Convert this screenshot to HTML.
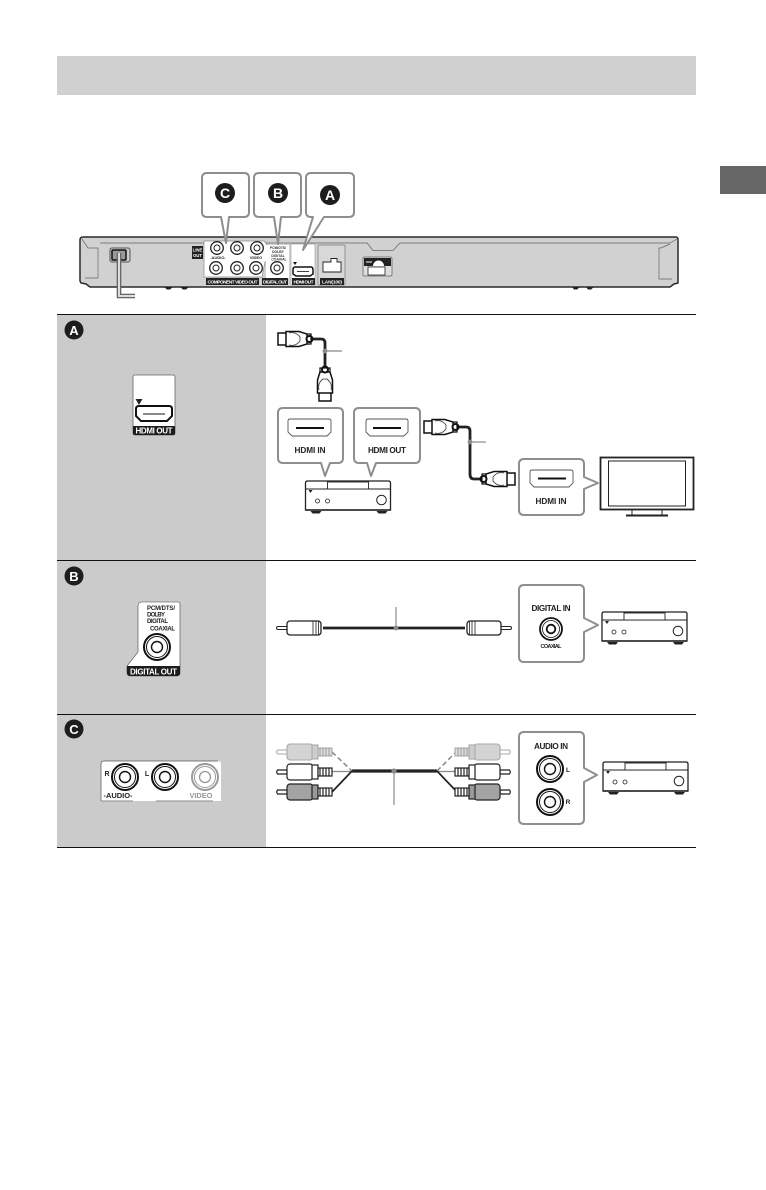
<!DOCTYPE html>
<html><head><meta charset="utf-8"><style>
html,body{margin:0;padding:0;background:#fff}
svg{display:block;filter:blur(.3px)}
text{font-family:"Liberation Sans",sans-serif;font-weight:bold}
</style></head><body>
<svg width="766" height="1190" viewBox="0 0 766 1190" xmlns="http://www.w3.org/2000/svg">
<defs>
<g id="recv">
 <path d="M1 2Q1 0 3 0H84Q86 0 86 2V29H1Z" fill="#fff" stroke="#222" stroke-width="1.300"/>
 <path d="M1 8H86" stroke="#222" stroke-width="1"/>
 <rect x="23" y="1" width="41" height="7" fill="#fff" stroke="#222" stroke-width=".9"/>
 <path d="M4 9h4l-2 3z" fill="#222"/>
 <circle cx="13" cy="20" r="2" fill="#fff" stroke="#222" stroke-width=".8"/>
 <circle cx="23" cy="20" r="2" fill="#fff" stroke="#222" stroke-width=".8"/>
 <circle cx="77" cy="19" r="4.800" fill="#fff" stroke="#222" stroke-width="1"/>
 <path d="M1 29h85" stroke="#222" stroke-width="1.400"/>
 <path d="M6 30h11l-2 2.500H8zM72 30h11l-2 2.500H74z" fill="#222"/>
</g>
<g id="hplug">
 <rect x="0" y="-6" width="9" height="12" fill="#fff" stroke="#111" stroke-width="1.500"/>
 <path d="M8-7.500H21L29-5V5L21 7.500H8Z" fill="#fff" stroke="#111" stroke-width="1.500"/>
 <path d="M11-6C15-7 19-6 22-2V2C19 6 15 7 11 6" fill="none" stroke="#333" stroke-width=".8"/>
 <circle cx="31.500" cy="0" r="3" fill="#fff" stroke="#111" stroke-width="2"/>
 <path d="M29-5h4v10h-4" fill="none" stroke="#111" stroke-width="1.200"/>
</g>
<g id="rca1">
 <path d="M1-1.500H10V1.500H1A1.500 1.500 0 0 1 1-1.500Z" fill="#fff" stroke="#222" stroke-width="1"/>
 <rect x="10" y="-7" width="34" height="14" rx="3" fill="#fff" stroke="#222" stroke-width="1.300"/>
 <path d="M36-7V7M39-7V7M41.500-7V7" stroke="#222" stroke-width=".8"/>
</g>
<g id="jack">
 <circle r="13" fill="#fff" stroke="#111" stroke-width="2"/>
 <circle r="10.500" fill="#fff" stroke="#111" stroke-width="1"/>
 <circle r="5.500" fill="#fff" stroke="#111" stroke-width="1.400"/>
</g>
<g id="mini">
 <circle r="6.300" fill="#fff" stroke="#222" stroke-width="1.300"/>
 <circle r="3" fill="#fff" stroke="#222" stroke-width="1"/>
</g>
<g id="triple">
 <g stroke="#aaa" stroke-width="1.100">
  <path d="M277.500 750H287V754H277.500Q276 752 277.500 750Z" fill="#fff"/>
  <rect x="287" y="744" width="26" height="16" rx="3" fill="#d4d4d4"/>
  <rect x="312" y="745" width="6" height="14" fill="#ccc"/>
  <rect x="318" y="748" width="14" height="8" fill="#ddd"/>
 </g>
 <path d="M320 748v8M323 748v8M326 748v8M329 748v8" stroke="#999" stroke-width="1"/>
 <g stroke="#222" stroke-width="1.200">
  <path d="M277.500 770H287V774H277.500Q276 772 277.500 770Z" fill="#fff"/>
  <rect x="287" y="764" width="26" height="16" rx="3" fill="#fff"/>
  <rect x="312" y="765" width="6" height="14" fill="#fff"/>
  <rect x="318" y="768" width="14" height="8" fill="#fff"/>
 </g>
 <path d="M320 768v8M323 768v8M326 768v8M329 768v8" stroke="#111" stroke-width="1.100"/>
 <g stroke="#222" stroke-width="1.200">
  <path d="M277.500 790H287V794H277.500Q276 792 277.500 790Z" fill="#fff"/>
  <rect x="287" y="784" width="26" height="16" rx="3" fill="#a3a3a3"/>
  <rect x="312" y="785" width="6" height="14" fill="#999"/>
  <rect x="318" y="788" width="14" height="8" fill="#fff"/>
 </g>
 <path d="M320 788v8M323 788v8M326 788v8M329 788v8" stroke="#111" stroke-width="1.100"/>
</g>
</defs>

<rect width="766" height="1190" fill="#fff"/>
<rect x="57" y="56" width="639" height="39" fill="#d0d0d0"/>
<rect x="720" y="166" width="46" height="28" fill="#666"/>

<!-- player -->
<path d="M83 237H676Q678 237 678 240V283L674 284 670 287H90L86 284 81 283 80 281V240Q80 237 83 237Z" fill="#d1d1d1" stroke="#2a2a2a" stroke-width="1.500"/>
<path d="M100 243H367L373 250.500H393L400 243H670L677 239" fill="none" stroke="#666" stroke-width=".7"/>
<path d="M82 239L88 248H98V278H85" fill="none" stroke="#666" stroke-width=".7"/>
<path d="M670 244L661 248H659V279H672" fill="none" stroke="#666" stroke-width=".7"/>
<path d="M164 287h9l-3 2.500h-3zM180 287h9l-3 2.500h-3zM572 287h8l-3 2.500h-3zM586 287h8l-3 2.500h-3z" fill="#222"/>

<!-- power -->
<rect x="110" y="248" width="20" height="14" rx="2" fill="#ccc" stroke="#555" stroke-width="1"/>
<rect x="112" y="250" width="14" height="10" rx="1" fill="#999" stroke="#111" stroke-width="1.500"/>
<path d="M119 253V296H135" fill="none" stroke="#666" stroke-width="4.600"/>
<path d="M119 253V296H135" fill="none" stroke="#ddd" stroke-width="2"/>

<!-- rear panels -->
<path d="M204 241H264L268 246V262H265L262 277H204Z" fill="#fff" stroke="#888" stroke-width=".7"/>
<rect x="192" y="246" width="11" height="13" fill="#222"/>
<text x="197.500" y="251.500" font-size="4.300" fill="#fff" text-anchor="middle">LINE</text>
<text x="197.500" y="257" font-size="4.300" fill="#fff" text-anchor="middle">OUT</text>
<g transform="translate(217,248)"><use href="#mini"/></g>
<g transform="translate(237,248)"><use href="#mini"/></g>
<g transform="translate(257,248)"><use href="#mini"/></g>
<g transform="translate(216,268)"><use href="#mini"/></g>
<g transform="translate(237,268)"><use href="#mini"/></g>
<g transform="translate(256,268)"><use href="#mini"/></g>
<text x="218" y="259" font-size="4" fill="#222" text-anchor="middle">-AUDIO-</text>
<text x="256" y="259" font-size="4" fill="#222" text-anchor="middle">VIDEO</text>
<rect x="206" y="278" width="53" height="7" fill="#222"/>
<text x="232.500" y="283.500" font-size="4.800" fill="#fff" text-anchor="middle" textLength="50">COMPONENT VIDEO OUT</text>
<rect x="266" y="245" width="23" height="33" fill="#fff"/>
<text x="278" y="249" font-size="3.400" fill="#333" text-anchor="middle">PCM/DTS/</text>
<text x="278" y="253" font-size="3.400" fill="#333" text-anchor="middle">DOLBY</text>
<text x="278" y="257" font-size="3.400" fill="#333" text-anchor="middle">DIGITAL</text>
<text x="279" y="260.500" font-size="3.400" fill="#333" text-anchor="middle">COAXIAL</text>
<g transform="translate(277,268)"><use href="#mini"/></g>
<rect x="262" y="278" width="26" height="7" fill="#222"/>
<text x="275" y="283.500" font-size="4.800" fill="#fff" text-anchor="middle" textLength="24">DIGITAL OUT</text>
<rect x="291" y="244" width="24" height="41" fill="#fff" stroke="#999" stroke-width=".6"/>
<path d="M293 262h4l-2 3z" fill="#111"/>
<path d="M295 267H311Q313 267 313 270V274L310 276H296L293 274V270Q293 267 295 267Z" fill="#fff" stroke="#111" stroke-width="1.500"/>
<path d="M297 271.500H309" stroke="#111" stroke-width=".8"/>
<rect x="292" y="278" width="23" height="7" fill="#222"/>
<text x="303.500" y="283.500" font-size="4.800" fill="#fff" text-anchor="middle" textLength="20">HDMI OUT</text>
<rect x="318" y="245" width="27" height="40" rx="1" fill="#d8d8d8" stroke="#777" stroke-width=".7"/>
<path d="M323 272V262H331V258.500H337V262H341V272Z" fill="#fff" stroke="#222" stroke-width=".9"/>
<rect x="320" y="278" width="24" height="7" fill="#222"/>
<text x="332" y="283.500" font-size="4.800" fill="#fff" text-anchor="middle" textLength="20">LAN(100)</text>
<rect x="363" y="257" width="29" height="19" rx="1.500" fill="#ddd" stroke="#666" stroke-width=".8"/>
<rect x="364" y="258" width="27" height="8" fill="#222"/>
<path d="M373 266A5.500 5.500 0 0 1 384 266Z" fill="#fff"/>
<rect x="368" y="267" width="17" height="8" fill="#fff" stroke="#222" stroke-width=".8"/>
<path d="M366 262h6" stroke="#fff" stroke-width="1"/>

<!-- top callouts -->
<g fill="#fff" stroke="#8e8e8e" stroke-width="2" stroke-linejoin="round">
 <path d="M207 173H244Q249 173 249 178V212Q249 217 244 217H229L226 243 221 217H207Q202 217 202 212V178Q202 173 207 173Z"/>
 <path d="M259 173H296Q301 173 301 178V212Q301 217 296 217H281L278 244 274 217H259Q254 217 254 212V178Q254 173 259 173Z"/>
 <path d="M311 173H349Q354 173 354 178V212Q354 217 349 217H324L303 250 313 217H311Q306 217 306 212V178Q306 173 311 173Z"/>
</g>
<circle cx="225" cy="193" r="10" fill="#1d1d1d"/><text x="225" y="198" font-size="14" fill="#fff" text-anchor="middle">C</text>
<circle cx="278" cy="193" r="10" fill="#1d1d1d"/><text x="278" y="198" font-size="14" fill="#fff" text-anchor="middle">B</text>
<circle cx="330" cy="195" r="10" fill="#1d1d1d"/><text x="330" y="200" font-size="14" fill="#fff" text-anchor="middle">A</text>

<!-- table -->
<rect x="57" y="314" width="209" height="533" fill="#cbcbcb"/>
<path d="M57 314.500H696M57 560.500H696M57 714.500H696M57 847.500H696" stroke="#111" stroke-width="1"/>

<circle cx="74" cy="330" r="9.500" fill="#1d1d1d"/><text x="74" y="335" font-size="13" fill="#fff" text-anchor="middle">A</text>
<circle cx="74" cy="576" r="9.500" fill="#1d1d1d"/><text x="74" y="581" font-size="13" fill="#fff" text-anchor="middle">B</text>
<circle cx="74" cy="729" r="9.500" fill="#1d1d1d"/><text x="74" y="734" font-size="13" fill="#fff" text-anchor="middle">C</text>

<!-- Row A left -->
<path d="M135 375H173Q175 375 175 377V433Q175 435 173 435H135Q133 435 133 433V377Q133 375 135 375Z" fill="#fff" stroke="#666" stroke-width=".8"/>
<path d="M133 426H175V433Q175 435 173 435H135Q133 435 133 433Z" fill="#1d1d1d"/>
<text x="154" y="433.500" font-size="8" fill="#fff" text-anchor="middle" textLength="37">HDMI OUT</text>
<path d="M135.500 399h7l-3.500 6z" fill="#222"/>
<path d="M139 406H169Q172 406 172 409V416L167 421H141L136 416V409Q136 406 139 406Z" fill="#fff" stroke="#111" stroke-width="2"/>
<path d="M143 414H165" stroke="#111" stroke-width="1"/>

<!-- Row A cables -->
<path d="M312 339H321Q325 339 325 343V370" fill="none" stroke="#222" stroke-width="2.800"/>
<g transform="translate(278,339)"><use href="#hplug"/></g>
<g transform="translate(325,401) rotate(-90)"><use href="#hplug"/></g>
<path d="M325 351H342" stroke="#8a8a8a" stroke-width="1.200"/><circle cx="325" cy="351" r="2.400" fill="#8a8a8a"/>

<path d="M458 427H466Q470 427 470 431V474Q470 479 474 479H484" fill="none" stroke="#222" stroke-width="2.800"/>
<g transform="translate(424,427)"><use href="#hplug"/></g>
<g transform="translate(515,479) rotate(180)"><use href="#hplug"/></g>
<path d="M470 442H486" stroke="#8a8a8a" stroke-width="1.200"/><circle cx="470" cy="442" r="2.400" fill="#8a8a8a"/>

<!-- HDMI callouts -->
<g fill="#fff" stroke="#8e8e8e" stroke-width="2" stroke-linejoin="round">
 <path d="M283 408H338Q343 408 343 413V458Q343 463 338 463H330L325 476 321 463H283Q278 463 278 458V413Q278 408 283 408Z"/>
 <path d="M359 408H415Q420 408 420 413V458Q420 463 415 463H376L371 476 367 463H359Q354 463 354 458V413Q354 408 359 408Z"/>
 <path d="M524 459H579Q584 459 584 464V477L598 483 584 489V510Q584 515 579 515H524Q519 515 519 510V464Q519 459 524 459Z"/>
 <path d="M524 585H579Q584 585 584 590V618L598 625 584 632V657Q584 662 579 662H524Q519 662 519 657V590Q519 585 524 585Z"/>
 <path d="M524 732H579Q584 732 584 737V768L597 775 584 782V819Q584 824 579 824H524Q519 824 519 819V737Q519 732 524 732Z"/>
</g>
<g fill="#fff" stroke="#555" stroke-width=".9">
 <path d="M290 419H329Q331 419 331 421V432L327 436H292L288 432V421Q288 419 290 419Z"/>
 <path d="M368 419H406Q408 419 408 421V432L404 436H370L366 432V421Q366 419 368 419Z"/>
 <path d="M532 470H571Q573 470 573 472V483L569 487H534L530 483V472Q530 470 532 470Z"/>
</g>
<path d="M296 428H324M373 428H401M538 478.500H566" stroke="#111" stroke-width="2"/>
<g fill="#222" text-anchor="middle" font-size="8.200">
 <text x="310" y="453" textLength="31">HDMI IN</text>
 <text x="387" y="453" textLength="38">HDMI OUT</text>
 <text x="551" y="504" textLength="31">HDMI IN</text>
 <text x="551" y="611" textLength="39">DIGITAL IN</text>
 <text x="551" y="749" textLength="34">AUDIO IN</text>
</g>

<use href="#recv" x="304.500" y="481"/>
<!-- TV -->
<rect x="600.500" y="457.500" width="93" height="52" fill="#fff" stroke="#222" stroke-width="1.800"/>
<rect x="608.500" y="461" width="77" height="45" fill="#fff" stroke="#222" stroke-width="1"/>
<path d="M632 510V515M662 510V515" stroke="#222" stroke-width="1"/>
<path d="M626 515.500H668" stroke="#222" stroke-width="2"/>

<!-- Row B left -->
<path d="M142 602H178Q180 602 180 604V673Q180 676 176 676H130Q127 676 127 672V666L138 652V606Q138 602 142 602Z" fill="#fff" stroke="#444" stroke-width=".6"/>
<path d="M127 666H180V673Q180 676 176 676H130Q127 676 127 672Z" fill="#1d1d1d"/>
<text x="153.500" y="674.500" font-size="8" fill="#fff" text-anchor="middle" textLength="47">DIGITAL OUT</text>
<g fill="#222" font-size="6">
 <text x="147" y="610" textLength="28">PCM/DTS/</text>
 <text x="147" y="616.500" textLength="18">DOLBY</text>
 <text x="147" y="623" textLength="21">DIGITAL</text>
 <text x="150" y="630.500" textLength="25">COAXIAL</text>
</g>
<g transform="translate(157,647)"><use href="#jack"/></g>

<!-- Row B cable -->
<path d="M323 628H465" stroke="#222" stroke-width="2.800"/>
<g transform="translate(277,628)"><use href="#rca1"/></g>
<g transform="translate(511,628) scale(-1,1)"><use href="#rca1"/></g>
<path d="M396 607V628" stroke="#8a8a8a" stroke-width="1.200"/><circle cx="396" cy="628" r="2.400" fill="#8a8a8a"/>
<g transform="translate(551,629)"><circle r="11" fill="#fff" stroke="#111" stroke-width="1.800"/><circle r="8.500" fill="#fff" stroke="#111" stroke-width=".8"/><circle r="4.300" fill="#fff" stroke="#111" stroke-width="1.800"/></g>
<text x="551" y="648" font-size="5.500" fill="#222" text-anchor="middle" textLength="21">COAXIAL</text>
<use href="#recv" x="601" y="612"/>

<!-- Row C left -->
<path d="M104 761H218Q221 761 221 764V801H101V764Q101 761 104 761Z" fill="#fff"/>
<path d="M101 801V764Q101 761 104 761H218" fill="none" stroke="#555" stroke-width=".7"/>
<path d="M101 801H133M156 801H213" stroke="#888" stroke-width="1"/>
<g transform="translate(125,777)"><use href="#jack"/></g>
<g transform="translate(165,777)"><use href="#jack"/></g>
<g transform="translate(205,777)"><circle r="13" fill="#fff" stroke="#999" stroke-width="2"/><circle r="10.500" fill="#fff" stroke="#999" stroke-width="1"/><circle r="5.500" fill="#fff" stroke="#999" stroke-width="1.300"/></g>
<text x="107" y="776" font-size="7" fill="#222" text-anchor="middle">R</text>
<text x="147" y="776" font-size="7" fill="#222" text-anchor="middle">L</text>
<text x="118" y="798" font-size="7.500" fill="#222" text-anchor="middle" textLength="29">-AUDIO-</text>
<text x="201" y="798" font-size="7.500" fill="#999" text-anchor="middle" textLength="23">VIDEO</text>

<!-- Row C cable -->
<path d="M352 771H437" stroke="#222" stroke-width="3.200"/>
<path d="M332 752L352 771M437 771L456 752" stroke="#888" stroke-width="1.500" stroke-dasharray="5 3" fill="none"/>
<path d="M332 771.500H352M437 771.500H456" stroke="#888" stroke-width="1.200"/>
<path d="M332 792L352 771M437 771L457 792" stroke="#222" stroke-width="1.700" fill="none"/>
<path d="M394 771V805" stroke="#8a8a8a" stroke-width="1.200"/><circle cx="394" cy="771" r="2.600" fill="#8a8a8a"/>
<use href="#triple"/>
<g transform="translate(787,0) scale(-1,1)"><use href="#triple"/></g>
<g transform="translate(550,769)"><use href="#jack"/></g>
<g transform="translate(550,802)"><use href="#jack"/></g>
<text x="568" y="772" font-size="6.500" fill="#222" text-anchor="middle">L</text>
<text x="568" y="804" font-size="6.500" fill="#222" text-anchor="middle">R</text>
<use href="#recv" x="602" y="762"/>
</svg>
</body></html>
